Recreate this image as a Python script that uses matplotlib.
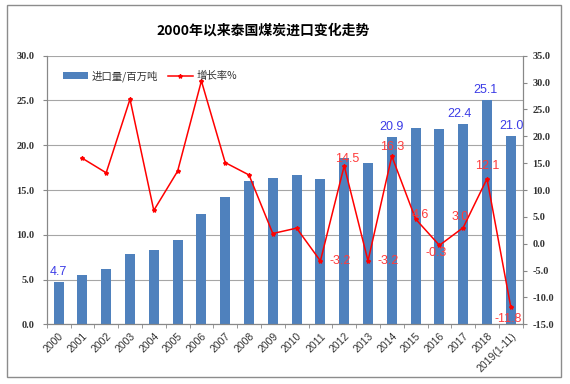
# Thailand coal imports since 2000: bars for volume, line for growth rate

import numpy as np
import matplotlib.pyplot as plt
from matplotlib.patches import Rectangle

plt.rcParams['font.family'] = ['Noto Sans CJK SC', 'DejaVu Sans']

# Data
years = ['2000', '2001', '2002', '2003', '2004', '2005', '2006', '2007', '2008', '2009',
         '2010', '2011', '2012', '2013', '2014', '2015', '2016', '2017', '2018', '2019(1-11)']
imports = [4.7, 5.5, 6.2, 7.8, 8.3, 9.4, 12.3, 14.2, 16.0, 16.3,
           16.7, 16.2, 18.6, 18.0, 20.9, 21.9, 21.8, 22.4, 25.1, 21.0]
growth = [np.nan, 15.9, 13.2, 26.9, 6.2, 13.5, 30.3, 15.1, 12.8, 1.9,
          2.9, -3.2, 14.5, -3.2, 16.3, 4.6, -0.3, 3.0, 12.1, -11.8]

# Which values get a printed label, and where (offset in pixels)
barLabelIdx = [0, 14, 17, 18, 19]
barLabelOff = [(0, 4), (0, 4), (-4, 4), (-2, 4), (1, 4)]
rateLabelIdx = [11, 12, 13, 14, 15, 16, 17, 18, 19]
rateLabelOff = [(20, 0), (3, 7), (20, 0), (0, 9), (5, 4), (-3, -8), (-3, 11), (0, 13), (-3, -12)]

fig = plt.figure(figsize = (5.7, 3.84), dpi = 100)
ax = fig.add_axes([46.7 / 570, 1 - 324.3 / 384, 476 / 570, 268.6 / 384])
ax2 = ax.twinx()

x = np.arange(len(years))

# Bars on the left axis
bars = ax.bar(x, imports, width = 0.42, color = '#4F81BD', label = '进口量/百万吨', zorder = 2)
ax.set_ylim(0, 30)
ax.set_yticks(np.arange(0, 30.1, 5))
ax.set_yticklabels([f'{v:.1f}' for v in np.arange(0, 30.1, 5)],
                   family = 'Liberation Serif', fontweight = 'bold', fontsize = 7.5, color = '#333333')
ax.set_xlim(-0.5, len(years) - 0.5)
ax.grid(axis = 'y', color = '#A6A6A6', linewidth = 0.8, zorder = 0)
ax.set_axisbelow(True)

# Year labels under the bars, tick marks between categories
ax.set_xticks(x)
ax.set_xticklabels(years, rotation = 45, ha = 'right', rotation_mode = 'anchor',
                   family = 'Liberation Sans', fontsize = 7.5, color = '#333333')
ax.tick_params(axis = 'x', which = 'major', length = 0, pad = 5)
ax.set_xticks(np.arange(-0.5, len(years), 1), minor = True)
ax.tick_params(axis = 'x', which = 'minor', length = 3, color = '#888888')
ax.tick_params(axis = 'y', length = 3, color = '#888888', pad = 6)

for i, off in zip(barLabelIdx, barLabelOff):
    ax.annotate(f'{imports[i]:.1f}', (x[i], imports[i]), xytext = off, textcoords = 'offset pixels',
                ha = 'center', va = 'bottom', color = '#3B3BE6', fontsize = 9,
                family = 'Liberation Sans')

# Growth rate line on the right axis
ax2.plot(x, growth, color = '#FF0000', linewidth = 1.1, marker = '*', markersize = 3,
         label = '增长率%', zorder = 3)
ax2.set_ylim(-15, 35)
ax2.set_yticks(np.arange(-15, 35.1, 5))
ax2.set_yticklabels([f'{v:.1f}' for v in np.arange(-15, 35.1, 5)],
                    family = 'Liberation Serif', fontweight = 'bold', fontsize = 7.5, color = '#333333')
ax2.tick_params(axis = 'y', length = 3, color = '#888888', pad = 4)

for i, off in zip(rateLabelIdx, rateLabelOff):
    ax2.annotate(f'{growth[i]:.1f}', (x[i], growth[i]), xytext = off, textcoords = 'offset pixels',
                 ha = 'center', va = 'center', color = '#FF3B3B', fontsize = 9,
                 family = 'Liberation Sans')

for a in (ax, ax2):
    a.spines['top'].set_visible(False)
    for s in ('left', 'right', 'bottom'):
        a.spines[s].set_color('#888888')

# Legend inside the plot, top left
handles = [bars, ax2.lines[0]]
ax2.legend(handles, [h.get_label() for h in handles], ncol = 2, frameon = False,
           loc = 'center left', bbox_to_anchor = (63 / 570, 1 - 76 / 384),
           bbox_transform = fig.transFigure, fontsize = 7.5, handlelength = 2.4,
           handletextpad = 0.3, columnspacing = 1.0, borderpad = 0, borderaxespad = 0,
           labelcolor = '#333333')

fig.text(263.5 / 570, 1 - 31 / 384, '2000年以来泰国煤炭进口变化走势', ha = 'center', va = 'center',
         fontsize = 10, fontweight = 'bold')

# Outer gray frame
fig.patches.append(Rectangle((7 / 570, 7 / 384), 554 / 570, 372 / 384, transform = fig.transFigure,
                             fill = False, edgecolor = '#8C8C8C', linewidth = 1))

fig.savefig('out.png', dpi = 100)
